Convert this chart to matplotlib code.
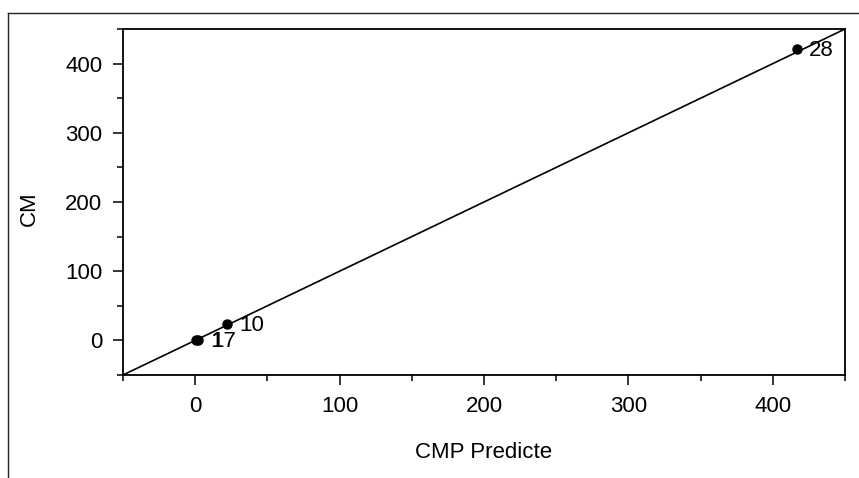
import matplotlib
matplotlib.use("Agg")
import matplotlib.pyplot as plt
from matplotlib.lines import Line2D
from matplotlib.ticker import MultipleLocator

plt.rcParams["font.family"] = ["Liberation Sans", "DejaVu Sans"]

# ─────────────── данные ───────────────
pred_x = [0.5, 1.8, 22, 417]
actual_y = [0.0, 0.6, 23, 421]
point_labels = ["1", "17", "10", "28"]
line_ends = [-50, 450]
x_ticks = [0, 100, 200, 300, 400]
y_ticks = [0, 100, 200, 300, 400]

FS = 16

fig = plt.figure(figsize=(8.59, 4.78), dpi=100)
ax = fig.add_axes([0.1432, 0.2155, 0.8405, 0.7238])

# линия y = x
ax.plot(line_ends, line_ends, color="black", lw=1.2, clip_on=False)
ax.plot(pred_x, actual_y, "o", color="black", ms=6.5)

for x, y, t in zip(pred_x, actual_y, point_labels):
    dx = 10 if t in ("1", "17") else 8.5
    ax.annotate(t, (x, y), xytext=(dx, -1), textcoords="offset points",
                fontsize=FS, va="center")

ax.set_xlim(-50, 450)
ax.set_ylim(-50, 450)
ax.set_xticks(x_ticks)
ax.set_yticks(y_ticks)
ax.xaxis.set_minor_locator(MultipleLocator(50))
ax.yaxis.set_minor_locator(MultipleLocator(50))
ax.tick_params(which="major", direction="out", length=7, width=1.1, labelsize=FS, pad=8)
ax.tick_params(which="minor", direction="out", length=4.5, width=1.1)
for s in ax.spines.values():
    s.set_linewidth(1.3)

ax.set_xlabel("CMP Predicte", fontsize=FS)
ax.set_ylabel("CM", fontsize=FS)
ax.xaxis.set_label_coords(0.5, -0.193)
ax.yaxis.set_label_coords(-0.115, 0.48)

# внешняя рамка (только слева и сверху)
fig.add_artist(Line2D([8 / 859, 8 / 859], [0, 1 - 13 / 478], color="#222222", lw=1.0,
                      transform=fig.transFigure))
fig.add_artist(Line2D([8 / 859, 1], [1 - 13 / 478, 1 - 13 / 478], color="#222222", lw=1.0,
                      transform=fig.transFigure))

fig.savefig("out.png", dpi=100)
